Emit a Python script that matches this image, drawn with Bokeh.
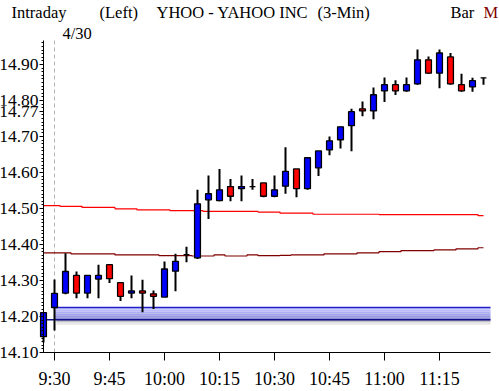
from bokeh.plotting import figure
from bokeh.models import FixedTicker, Label, ColumnDataSource, Range1d
from bokeh.embed import file_html
from bokeh.resources import INLINE
import numpy as np

# ---------------- data ----------------
times = ["9:27", "9:30", "9:33", "9:36", "9:39", "9:42", "9:45", "9:48", "9:51", "9:54",
         "9:57", "10:00", "10:03", "10:06", "10:09", "10:12", "10:15", "10:18", "10:21", "10:24",
         "10:27", "10:30", "10:33", "10:36", "10:39", "10:42", "10:45", "10:48", "10:51", "10:54",
         "10:57", "11:00", "11:03", "11:06", "11:09", "11:12", "11:15", "11:18", "11:21", "11:24",
         "11:27"]
opens = [14.144, 14.225, 14.265, 14.314, 14.265, 14.304, 14.344, 14.294, 14.265, 14.271,
         14.263, 14.254, 14.326, 14.372, 14.363, 14.524, 14.522, 14.561, 14.555, 14.561,
         14.571, 14.534, 14.562, 14.610, 14.555, 14.613, 14.663, 14.691, 14.730, 14.777,
         14.771, 14.827, 14.844, 14.827, 14.846, 14.913, 14.876, 14.921, 14.844, 14.838,
         14.863]
highs = [14.211, 14.303, 14.376, 14.325, 14.314, 14.344, 14.344, 14.294, 14.314, 14.302,
         14.272, 14.353, 14.374, 14.394, 14.552, 14.592, 14.610, 14.582, 14.592, 14.582,
         14.571, 14.592, 14.670, 14.610, 14.641, 14.660, 14.700, 14.727, 14.777, 14.797,
         14.836, 14.864, 14.856, 14.864, 14.942, 14.922, 14.942, 14.932, 14.874, 14.863,
         14.863]
lows = [14.128, 14.161, 14.262, 14.251, 14.251, 14.251, 14.293, 14.243, 14.251, 14.212,
        14.221, 14.254, 14.270, 14.351, 14.360, 14.471, 14.520, 14.520, 14.520, 14.552,
        14.531, 14.531, 14.541, 14.531, 14.552, 14.590, 14.648, 14.667, 14.659, 14.756,
        14.748, 14.796, 14.815, 14.824, 14.844, 14.874, 14.834, 14.844, 14.824, 14.824,
        14.844]
closes = [14.211, 14.264, 14.325, 14.265, 14.314, 14.314, 14.305, 14.256, 14.271, 14.265,
          14.256, 14.332, 14.353, 14.372, 14.513, 14.541, 14.552, 14.534, 14.561, 14.561,
          14.534, 14.552, 14.603, 14.555, 14.641, 14.660, 14.688, 14.727, 14.769, 14.771,
          14.816, 14.844, 14.827, 14.844, 14.913, 14.876, 14.932, 14.846, 14.827, 14.855,
          14.863]
upper_line = [14.508, 14.508, 14.506, 14.506, 14.503, 14.503, 14.503, 14.499, 14.499, 14.496,
              14.496, 14.496, 14.494, 14.494, 14.494, 14.492, 14.492, 14.492, 14.492, 14.492,
              14.490, 14.490, 14.487, 14.487, 14.487, 14.484, 14.484, 14.484, 14.484, 14.484,
              14.484, 14.483, 14.483, 14.483, 14.483, 14.483, 14.483, 14.483, 14.483, 14.483,
              14.480]
lower_line = [14.377, 14.377, 14.377, 14.374, 14.374, 14.374, 14.374, 14.371, 14.371, 14.371,
              14.371, 14.369, 14.369, 14.369, 14.368, 14.368, 14.371, 14.368, 14.368, 14.371,
              14.369, 14.369, 14.370, 14.371, 14.371, 14.371, 14.374, 14.374, 14.374, 14.377,
              14.377, 14.380, 14.380, 14.383, 14.383, 14.383, 14.385, 14.385, 14.388, 14.388,
              14.391]
band_low = 14.191
band_high = 14.225
band_start = "9:30"
session_start = "9:30"
date_label = "4/30"
y_ticks = [14.10, 14.20, 14.30, 14.40, 14.50, 14.60, 14.70, 14.80, 14.90]
y_tick_labels = ["14.10", "14.20", "14.30", "14.40", "14.50", "14.60", "14.70", "14.80", "14.90"]
y_top = 14.9667
marker_price = 14.77
marker_label = "14.77"
x_tick_labels = ["9:30", "9:45", "10:00", "10:15", "10:30", "10:45", "11:00", "11:15"]

FONT = "Liberation Sans Narrow"
W, H = 499, 391
PX_PER_MIN = 11 / 3.0
PX_PER_UNIT = 360.0
AXIS_X_PX, AXIS_Y_PX = 43, 352


def to_min(t):
    h, m = t.split(":")
    return int(h) * 60 + int(m)


x = [to_min(t) for t in times]
x_ticks = [to_min(t) for t in x_tick_labels]
colors = ["#0000ff" if c > o else ("#ff0000" if c < o else "#000000") for o, c in zip(opens, closes)]
src = ColumnDataSource(dict(x=x, o=opens, h=highs, l=lows, c=closes,
                            top=[max(a, b) for a, b in zip(opens, closes)],
                            bottom=[min(a, b) for a, b in zip(opens, closes)],
                            color=colors, up=upper_line, lo=lower_line))

# frame == whole canvas; axes pinned inside it
x0 = x[0]
x_lo = x0 - AXIS_X_PX / PX_PER_MIN
x_hi = x0 + (W - AXIS_X_PX) / PX_PER_MIN
x_end = x0 + (490 - AXIS_X_PX) / PX_PER_MIN
y_lo = y_ticks[0] - (H - AXIS_Y_PX) / PX_PER_UNIT
y_hi = y_ticks[0] + AXIS_Y_PX / PX_PER_UNIT

p = figure(width=W, height=H, x_range=Range1d(x_lo, x_hi), y_range=Range1d(y_lo, y_hi),
           output_backend="svg", toolbar_location=None,
           min_border_left=0, min_border_right=0, min_border_top=0, min_border_bottom=0)
p.grid.visible = False
p.outline_line_color = None
p.background_fill_color = "white"
p.border_fill_color = "white"

# axes
p.xaxis.fixed_location = y_ticks[0]
p.xaxis.bounds = (x0, x_end)
p.xaxis.ticker = FixedTicker(ticks=x_ticks, minor_ticks=[])
p.xaxis.major_label_overrides = {t: lab for t, lab in zip(x_ticks, x_tick_labels)}
p.xaxis.major_tick_out = 8
p.xaxis.major_tick_in = 0
p.xaxis.minor_tick_out = 0
p.xaxis.major_label_standoff = 8
p.xaxis.major_label_text_font_size = "18px"
p.yaxis.fixed_location = x0
p.yaxis.bounds = (y_ticks[0], y_top)
p.yaxis.ticker = FixedTicker(ticks=y_ticks + [marker_price],
                             minor_ticks=[round(v, 2) for v in np.arange(14.10, 14.965, 0.01)])
ov = {t: lab for t, lab in zip(y_ticks, y_tick_labels)}
ov[marker_price] = ""
p.yaxis.major_label_overrides = ov
p.yaxis.major_tick_out = 4
p.yaxis.major_tick_in = 0
p.yaxis.minor_tick_out = 2
p.yaxis.minor_tick_in = 0
p.yaxis.major_label_standoff = 1
p.yaxis.major_label_text_font_size = "17.5px"
for ax in (p.xaxis, p.yaxis):
    ax.axis_line_color = "black"
    ax.major_tick_line_color = "black"
    ax.minor_tick_line_color = "black"
    ax.major_label_text_font = FONT
    ax.major_label_text_color = "black"

# support band with gradient
bx0 = to_min(band_start)
shades = ["#c6c6ff", "#babafa", "#aeaef2", "#a2a2ea", "#9696e0", "#8c8cd6"]
edges = np.linspace(band_high, band_low, len(shades) + 1)
for i, col in enumerate(shades):
    p.quad(left=bx0, right=x_end, top=edges[i], bottom=edges[i + 1], fill_color=col, line_color=None)
shadow = ["#a8a8b4", "#c4c4c8", "#dcdcdc", "#eeeeee"]
sh_edges = band_low - np.arange(len(shadow) + 1) * 0.0036
for i, col in enumerate(shadow):
    p.quad(left=bx0 + 0.5, right=x_end, top=sh_edges[i], bottom=sh_edges[i + 1], fill_color=col, line_color=None)
p.segment(x0=bx0, y0=band_high, x1=x_end, y1=band_high, line_color="#2020c8", line_width=1.3)
p.segment(x0=x0, y0=band_low, x1=x_end, y1=band_low, line_color="#10108a", line_width=1.3)

# session separator
p.segment(x0=to_min(session_start), y0=y_ticks[0], x1=to_min(session_start), y1=y_top,
          line_color="#b4b4b4", line_dash="4 3", line_width=1)

# indicator lines
p.step("x", "up", source=src, mode="center", line_color="#ff0000", line_width=1.2)
p.step("x", "lo", source=src, mode="center", line_color="#800000", line_width=1.2)

# candles
p.segment(x0="x", y0="l", x1="x", y1="h", source=src, line_color="black", line_width=2)
p.vbar(x="x", top="top", bottom="bottom", width=1.6, source=src, fill_color="color",
       line_color="black", line_width=1.3)

# price marker label drawn over the axis labels
p.add_layout(Label(x=AXIS_X_PX - 5, x_units="screen", y=marker_price, text=marker_label,
                   text_align="right", text_baseline="middle", background_fill_color="white",
                   text_font=FONT, text_font_size="17.5px", text_color="black"))


# header texts (screen units)
def hdr(xs, ytop, txt, color="black"):
    p.add_layout(Label(x=xs, y=H - ytop, x_units="screen", y_units="screen", text=txt,
                       text_font=FONT, text_font_size="16.5px", text_color=color,
                       text_baseline="top", text_align="left"))


hdr(11, 2, "Intraday")
hdr(99, 2, "(Left)")
hdr(156, 2, "YHOO - YAHOO INC")
hdr(317, 2, "(3-Min)")
hdr(450, 2, "Bar")
hdr(483, 2, "M", "#800000")
hdr(62, 23, date_label)

open("out.html", "w").write(file_html(p, INLINE))
